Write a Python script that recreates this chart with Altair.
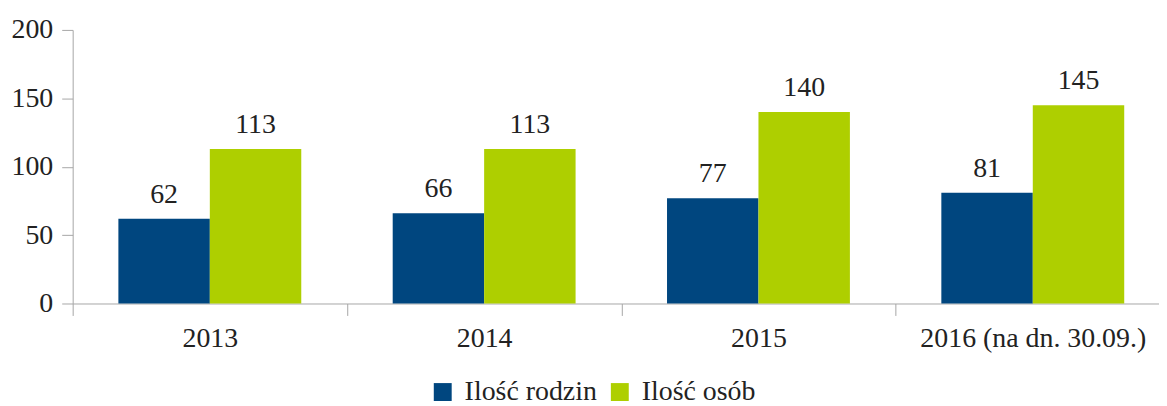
import altair as alt
import pandas as pd

years = ["2013", "2014", "2015", "2016 (na dn. 30.09.)"]
series = ["Ilość rodzin", "Ilość osób"]
rodziny = [62, 66, 77, 81]
osoby = [113, 113, 140, 145]
colors = ["#00467f", "#aecf00"]

rows = []
for i, yr in enumerate(years):
    rows.append({"rok": yr, "seria": series[0], "wartosc": rodziny[i]})
    rows.append({"rok": yr, "seria": series[1], "wartosc": osoby[i]})
df = pd.DataFrame(rows)

FONT = "Liberation Serif"
FS = 28
TXT = "#222222"
AX = "#a6a6a6"

x = alt.X(
    "rok:N", sort=years, title=None,
    scale=alt.Scale(range=[0, 1103], paddingInner=0, paddingOuter=0),
    axis=alt.Axis(labelAngle=0, tickBand="extent", domainColor=AX, tickColor=AX,
                  tickSize=12, labelPadding=9, labelFont=FONT, labelFontSize=FS,
                  labelColor=TXT, grid=False, labelLimit=400),
)
xo = alt.XOffset("seria:N", sort=series, scale=alt.Scale(paddingInner=0, paddingOuter=0.5))
y = alt.Y(
    "wartosc:Q", title=None, scale=alt.Scale(domain=[0, 200]),
    axis=alt.Axis(values=[0, 50, 100, 150, 200], grid=False, domainColor=AX, tickColor=AX,
                  tickSize=11, labelPadding=9, labelFont=FONT, labelFontSize=FS,
                  labelColor=TXT),
)

bars = alt.Chart(df).mark_bar().encode(
    x=x, xOffset=xo, y=y,
    color=alt.Color(
        "seria:N", sort=series,
        scale=alt.Scale(domain=series, range=colors),
        legend=alt.Legend(title=None, orient="none", legendX=358, legendY=350,
                          direction="horizontal", symbolType="square", symbolSize=324,
                          symbolStrokeWidth=0, labelFont=FONT, labelFontSize=FS,
                          labelColor=TXT, labelOffset=8, columnPadding=9, labelLimit=400),
    ),
)

labels = alt.Chart(df).mark_text(
    dy=-16, baseline="alphabetic", font=FONT, fontSize=FS, color=TXT
).encode(x=x, xOffset=xo, y=y, text=alt.Text("wartosc:Q"))

chart = alt.layer(bars, labels).properties(
    width=1092, height=275,
    autosize=alt.AutoSizeParams(type="none"),
    padding={"left": 65, "top": 21, "right": 0, "bottom": 102},
).configure_view(stroke=None)

chart.save("out.html", embed_options={"renderer": "svg", "actions": False})
